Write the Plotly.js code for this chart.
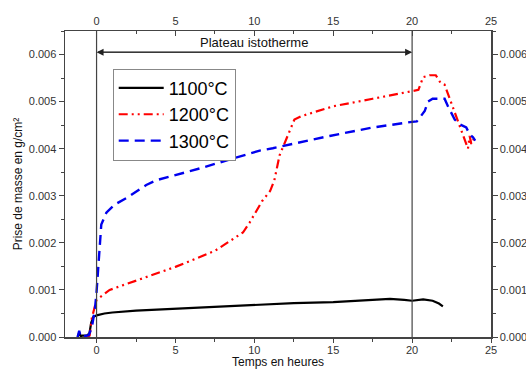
<!DOCTYPE html>
<html><head><meta charset="utf-8">
<script src="https://cdn.plot.ly/plotly-3.0.1.min.js"></script>
<style>body{margin:0;background:#fff}#c{width:526px;height:371px}</style>
</head><body><div id="c"></div>
<script>
var t1100 = [-1.2,-1.1,-1.0,-0.9,-0.6,-0.45,-0.34,-0.2,-0.05,0,0.5,1,2.5,5,7.5,10,12.5,15,17.5,18.6,19.5,20,20.7,21.3,21.7,21.95];
var m1100 = [0,0.00009,0.00002,0.00003,0.00003,0.00008,0.0003,0.00043,0.00045,0.00046,0.0005,0.00052,0.00056,0.0006,0.00065,0.00069,0.00072,0.00074,0.00078,0.00081,0.00079,0.00077,0.0008,0.00077,0.00071,0.00065];
var t1200 = [-0.6,-0.44,-0.3,-0.1,0,0.83,2.5,5,7.5,9.28,9.7,10.5,11,11.27,11.6,12.1,12.54,12.96,15,17.5,20,20.4,20.7,21.1,21.5,21.8,22.06,22.4,22.7,23.0,23.33,23.54,23.65,23.75,23.9];
var m1200 = [0,0.00003,0.0004,0.00068,0.00079,0.001,0.0012,0.00149,0.00183,0.00222,0.00243,0.00289,0.0031,0.00333,0.00386,0.00427,0.00462,0.00469,0.0049,0.00506,0.00522,0.00525,0.00552,0.00556,0.00556,0.0054,0.00536,0.00504,0.00476,0.00448,0.00417,0.004,0.00427,0.0041,0.0042];
var t1300 = [-1.2,-1.1,-1.0,-0.8,-0.5,-0.3,-0.1,0,0.19,0.3,0.62,1.14,1.88,3.15,3.79,6.54,10.34,11.17,14.77,17.5,20,20.3,20.8,21.0,21.3,22.06,22.27,22.7,23.0,23.43,23.64,23.86,24.0];
var m1300 = [0,0.00013,0,0.00002,0.00004,0.0002,0.0006,0.00096,0.00187,0.00239,0.00264,0.00281,0.00295,0.00323,0.00333,0.00358,0.00396,0.00401,0.00427,0.00445,0.00457,0.00458,0.0048,0.005,0.00506,0.00506,0.0049,0.00462,0.00452,0.00445,0.00431,0.00424,0.00417];
var names = ['1100°C','1200°C','1300°C'];
var xTicks = [0,5,10,15,20,25];
var yTicks = [0,0.001,0.002,0.003,0.004,0.005,0.006];
var yTickText = ['0.000','0.001','0.002','0.003','0.004','0.005','0.006'];
var xTitle = 'Temps en heures';
var yTitle = 'Prise de masse en g/cm²';
var plateauLabel = 'Plateau istotherme';
var plateauStart = 0, plateauEnd = 20, arrowLevel = 0.00605;

var traces = [
 {x:t1100,y:m1100,name:names[0],mode:'lines',line:{color:'#000000',width:2.2}},
 {x:t1200,y:m1200,name:names[1],mode:'lines',line:{color:'#ff0000',width:2.2,dash:'9px,4px,2px,4px,2px,4px'}},
 {x:t1300,y:m1300,name:names[2],mode:'lines',line:{color:'#0000ee',width:2.4,dash:'10px,6px'}},
 {x:t1100,y:m1100,xaxis:'x2',yaxis:'y2',mode:'lines',line:{width:0},showlegend:false,hoverinfo:'skip'}
];
var axFont = {family:'Liberation Sans, Arial, sans-serif',size:11,color:'#333'};
var common = {showgrid:false,zeroline:false,showline:true,linecolor:'#444',linewidth:1.5,tickcolor:'#444',ticklen:5,tickfont:axFont};
var layout = {
 width:526,height:371,margin:{l:65,r:35,t:31,b:34},
 paper_bgcolor:'#fff',plot_bgcolor:'#fff',
 font:{family:'Liberation Sans, Arial, sans-serif',color:'#000'},
 xaxis:Object.assign({},common,{range:[-2,25],tickvals:xTicks,ticks:'outside',ticklen:4,ticklabelstandoff:-2,
   minor:{dtick:2.5,ticks:'outside',ticklen:3,tickcolor:'#444'}}),
 yaxis:Object.assign({},common,{range:[0,0.0065],tickvals:yTicks,ticktext:yTickText,ticks:'outside',
   minor:{dtick:0.0005,ticks:'outside',ticklen:3,tickcolor:'#444'},
   title:{text:yTitle,font:{size:12,color:'#111'},standoff:3}}),
 xaxis2:Object.assign({},common,{overlaying:'x',side:'top',matches:'x',anchor:'y2',tickvals:xTicks,ticks:'inside',
   minor:{dtick:2.5,ticks:'inside',ticklen:3,tickcolor:'#444'}}),
 yaxis2:Object.assign({},common,{overlaying:'y',side:'right',matches:'y',anchor:'x2',tickvals:yTicks,ticktext:yTickText,ticks:'outside',
   minor:{dtick:0.0005,ticks:'outside',ticklen:3,tickcolor:'#444'}}),
 showlegend:true,
 legend:{x:0.112,y:0.877,xanchor:'left',yanchor:'top',bordercolor:'#888',borderwidth:1,bgcolor:'#fff',
   font:{size:18,family:'Liberation Sans, Arial, sans-serif',color:'#000'},tracegroupgap:0,itemwidth:45},
 shapes:[
  {type:'line',xref:'x',yref:'paper',x0:plateauStart,x1:plateauStart,y0:0,y1:1,line:{color:'#444',width:1.2}},
  {type:'line',xref:'x',yref:'paper',x0:plateauEnd,x1:plateauEnd,y0:0,y1:1,line:{color:'#444',width:1.2}}
 ],
 annotations:[
  {x:plateauStart,y:arrowLevel,ax:plateauEnd,ay:arrowLevel,xref:'x',yref:'y',axref:'x',ayref:'y',text:'',showarrow:true,arrowhead:2,arrowsize:1.4,arrowwidth:1,arrowcolor:'#222'},
  {x:plateauEnd,y:arrowLevel,ax:plateauStart,ay:arrowLevel,xref:'x',yref:'y',axref:'x',ayref:'y',text:'',showarrow:true,arrowhead:2,arrowsize:1.4,arrowwidth:1,arrowcolor:'#222'},
  {x:(plateauStart+plateauEnd)/2,y:arrowLevel,xref:'x',yref:'y',text:plateauLabel,showarrow:false,yanchor:'bottom',font:{size:13,color:'#111'}},
  {x:0.5,y:0,xref:'paper',yref:'paper',yshift:-33,borderpad:0,text:xTitle,showarrow:false,xanchor:'center',yanchor:'bottom',font:{size:12,color:'#111'}}
 ]
};
Plotly.newPlot('c',traces,layout,{displayModeBar:false,staticPlot:true});
</script></body></html>
